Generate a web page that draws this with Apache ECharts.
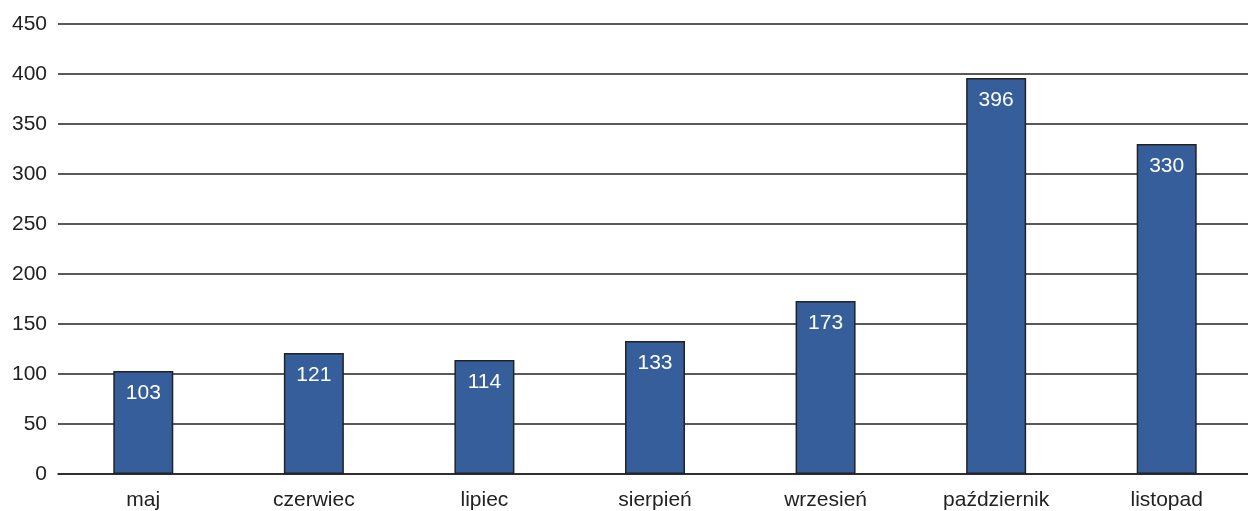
<!DOCTYPE html>
<html>
<head>
<meta charset="utf-8">
<script src="https://cdn.jsdelivr.net/npm/echarts@6/dist/echarts.min.js"></script>
<style>
  html, body { margin: 0; padding: 0; background: #fff; }
  #chart { width: 1248px; height: 511px; }
</style>
</head>
<body>
<div id="chart"></div>
<script>
// Monthly totals, May–November
const months = ['maj', 'czerwiec', 'lipiec', 'sierpień', 'wrzesień', 'październik', 'listopad'];
const values = [103, 121, 114, 133, 173, 396, 330];
const yTicks = { min: 0, max: 450, interval: 50 };

const chart = echarts.init(document.getElementById('chart'), null, { renderer: 'canvas' });
const font = 'Liberation Sans, Arial, sans-serif';

chart.setOption({
  animation: false,
  // the plot runs a few pixels past the right edge, so keep the grid unclamped
  grid: { left: 58, top: 24, width: 1194, bottom: 37, containLabel: false, outerBoundsMode: 'none' },
  xAxis: {
    type: 'category',
    data: months,
    axisLine: { show: true, lineStyle: { color: '#222', width: 1.5 } },
    axisTick: { show: false },
    axisLabel: { color: '#222', fontSize: 21, fontFamily: font, margin: 16 }
  },
  yAxis: {
    type: 'value',
    min: yTicks.min,
    max: yTicks.max,
    interval: yTicks.interval,
    axisLine: { show: false },
    axisTick: { show: false },
    axisLabel: { color: '#222', fontSize: 21, fontFamily: font, margin: 11 },
    splitLine: { show: true, lineStyle: { color: '#222', width: 1.5 } }
  },
  series: [{
    type: 'bar',
    data: values,
    barWidth: 60,
    itemStyle: { color: '#365e9a', borderColor: '#222', borderWidth: 1.5 },
    label: {
      show: true,
      position: 'insideTop',
      distance: 12,
      color: '#fff',
      fontSize: 21,
      fontFamily: font
    }
  }]
});
</script>
</body>
</html>
